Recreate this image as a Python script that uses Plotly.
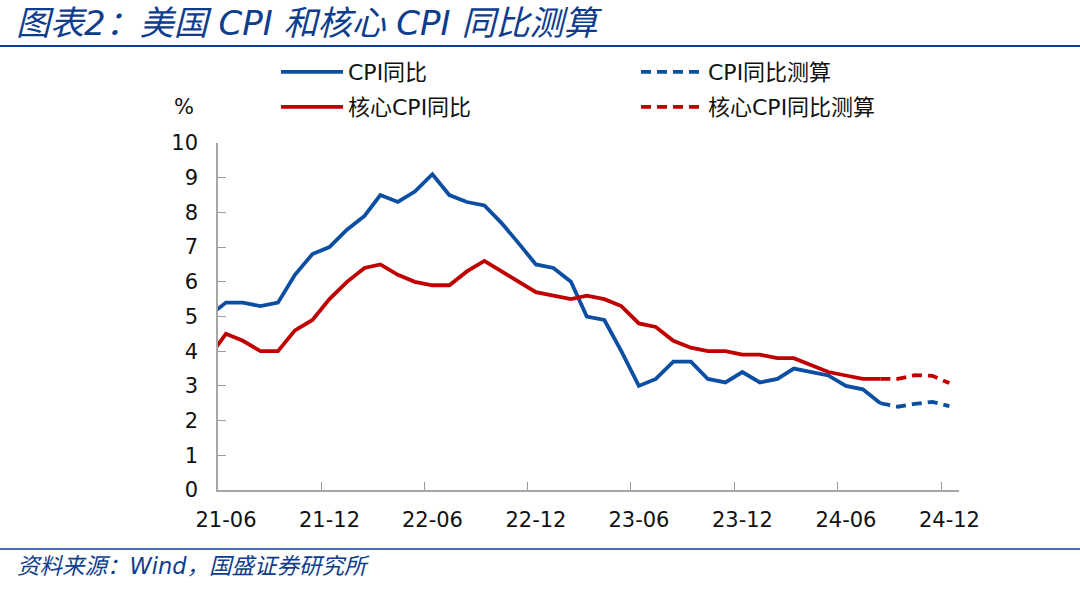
import plotly.graph_objects as go
import pandas as pd

# 月度数据 2021-05 ~ 2024-08（实际），2024-08 ~ 2024-12（测算）
months = pd.date_range("2021-05-01", periods=40, freq="MS") + pd.Timedelta(days=14)
est_months = pd.date_range("2024-08-01", periods=5, freq="MS") + pd.Timedelta(days=14)

cpi = [5.0, 5.4, 5.4, 5.3, 5.4, 6.2, 6.8, 7.0,
       7.5, 7.9, 8.5, 8.3, 8.6, 9.1, 8.5, 8.3, 8.2, 7.7, 7.1, 6.5,
       6.4, 6.0, 5.0, 4.9, 4.0, 3.0, 3.2, 3.7, 3.7, 3.2, 3.1, 3.4,
       3.1, 3.2, 3.5, 3.4, 3.3, 3.0, 2.9, 2.5]
core = [3.8, 4.5, 4.3, 4.0, 4.0, 4.6, 4.9, 5.5,
        6.0, 6.4, 6.5, 6.2, 6.0, 5.9, 5.9, 6.3, 6.6, 6.3, 6.0, 5.7,
        5.6, 5.5, 5.6, 5.5, 5.3, 4.8, 4.7, 4.3, 4.1, 4.0, 4.0, 3.9,
        3.9, 3.8, 3.8, 3.6, 3.4, 3.3, 3.2, 3.2]
cpi_est = [2.5, 2.4, 2.48, 2.54, 2.42]
core_est = [3.2, 3.2, 3.31, 3.29, 3.08]

blue = "#0B4EA2"
red = "#C00000"
navy = "#0E3D8E"
font = "DejaVu Sans, Noto Sans CJK SC"

W, H = 1080, 589
L, R, T, B = 218, 121, 143, 99
pw, ph = W - L - R, H - T - B


def px(x):
    return (x - L) / pw


def py(y):
    return (H - B - y) / ph


fig = go.Figure()
fig.add_trace(go.Scatter(x=months, y=cpi, mode="lines", name="CPI同比",
                         line=dict(color=blue, width=3.8), legend="legend"))
fig.add_trace(go.Scatter(x=est_months, y=cpi_est, mode="lines", name="CPI同比测算",
                         line=dict(color=blue, width=3.8, dash="10px,6px"), legend="legend2"))
fig.add_trace(go.Scatter(x=months, y=core, mode="lines", name="核心CPI同比",
                         line=dict(color=red, width=3.8), legend="legend3"))
fig.add_trace(go.Scatter(x=est_months, y=core_est, mode="lines", name="核心CPI同比测算",
                         line=dict(color=red, width=3.8, dash="10px,6px"), legend="legend4"))

leg = dict(xref="container", yref="container", xanchor="left", yanchor="middle",
           itemwidth=62, font=dict(family=font, size=22, color="#111111"),
           bgcolor="rgba(0,0,0,0)", borderwidth=0)

fig.update_layout(
    width=W, height=H,
    margin=dict(l=L, r=R, t=T, b=B, autoexpand=False),
    paper_bgcolor="white", plot_bgcolor="white",
    showlegend=True,
    legend=dict(leg, x=276 / W, y=1 - 72 / H),
    legend2=dict(leg, x=636 / W, y=1 - 72 / H),
    legend3=dict(leg, x=276 / W, y=1 - 107 / H),
    legend4=dict(leg, x=636 / W, y=1 - 107 / H),
    title=dict(text="图表2：美国 CPI 和核心 CPI 同比测算", xref="container", yref="container",
               x=16 / W, y=1 - 23 / H, xanchor="left", yanchor="middle",
               font=dict(family=font, size=34, color=navy, style="italic")),
    xaxis=dict(type="date", range=["2021-06-01", "2025-01-01"], tick0="2021-06-01", dtick="M6",
               tickformat="%y-%m", ticks="inside", ticklen=8, tickcolor="#999999",
               showline=True, linecolor="#A6A6A6", linewidth=1.5, showgrid=False, zeroline=False,
               ticklabelshift=8, ticklabelstandoff=10,
               tickfont=dict(family=font, size=21, color="#111111")),
    yaxis=dict(range=[0, 10], dtick=1, ticks="inside", ticklen=8, tickcolor="#999999",
               showline=True, linecolor="#A6A6A6", linewidth=1.5, showgrid=False, zeroline=False,
               ticklabelstandoff=14,
               tickfont=dict(family=font, size=21, color="#111111")),
    shapes=[
        dict(type="line", xref="paper", yref="paper", x0=px(0), x1=px(W), y0=py(46), y1=py(46),
             line=dict(color=navy, width=2)),
        dict(type="line", xref="paper", yref="paper", x0=px(0), x1=px(W), y0=py(549), y1=py(549),
             line=dict(color=navy, width=1.5)),
    ],
    annotations=[
        dict(text="%", xref="paper", yref="paper", x=px(184), y=py(107), showarrow=False,
             xanchor="center", yanchor="middle", font=dict(family=font, size=21, color="#111111")),
        dict(text="资料来源：Wind，国盛证券研究所", xref="paper", yref="paper", x=px(15), y=py(566),
             showarrow=False, xanchor="left", yanchor="middle",
             font=dict(family=font, size=22.5, color=navy, style="italic")),
    ],
)

fig.write_html("out.html", config={"displayModeBar": False},
               post_script="document.body.style.margin='0';")
